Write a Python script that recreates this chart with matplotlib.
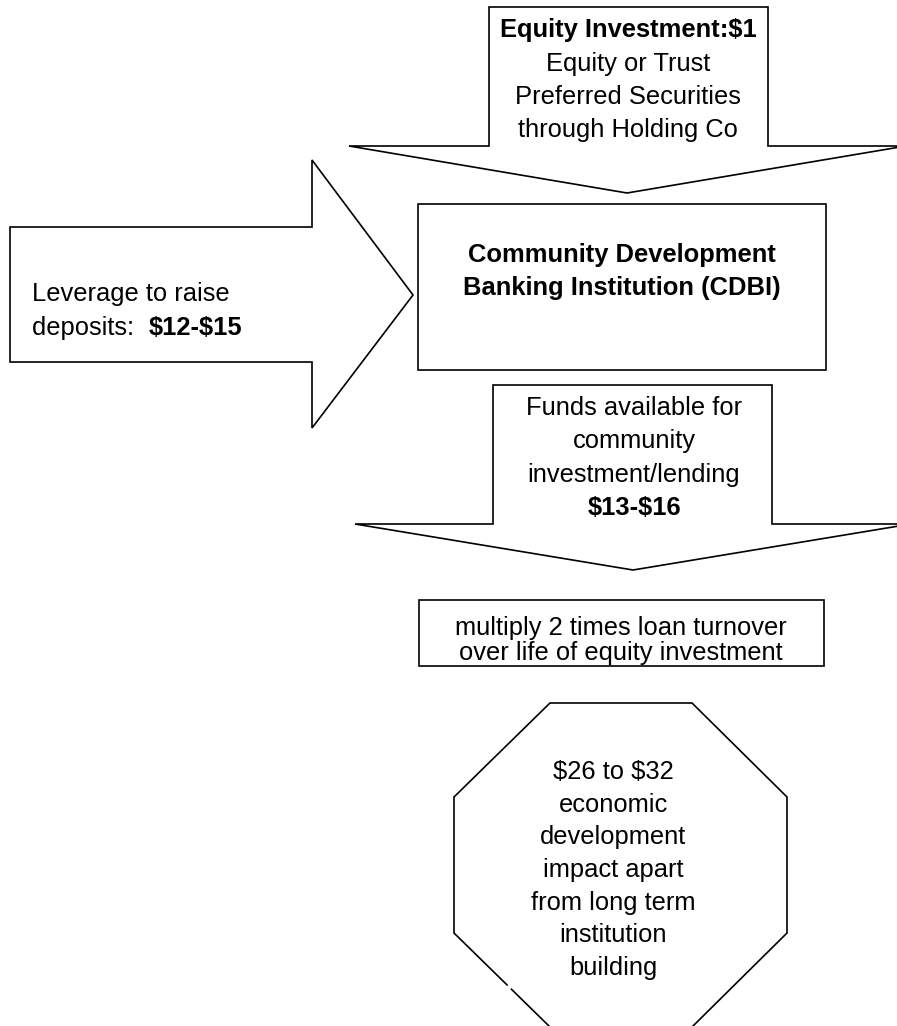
import matplotlib
matplotlib.use("Agg")
import matplotlib.pyplot as plt
from matplotlib.patches import Polygon

plt.rcParams['font.family'] = ['Liberation Sans', 'DejaVu Sans']

# ---- text content ----
top_lines = ["Equity Investment:$1", "Equity or Trust", "Preferred Securities", "through Holding Co"]
top_bold = [True, False, False, False]
left_line1 = "Leverage to raise"
left_line2_regular = "deposits:  "
left_line2_bold = "$12-$15"
center_lines = ["Community Development", "Banking Institution (CDBI)"]
funds_lines = ["Funds available for", "community", "investment/lending", "$13-$16"]
funds_bold = [False, False, False, True]
multiply_lines = ["multiply 2 times loan turnover", "over life of equity investment"]
octagon_lines = ["$26 to $32", "economic", "development", "impact apart",
                 "from long term", "institution", "building"]

W, H = 897, 1026
fig = plt.figure(figsize=(W / 100, H / 100), dpi=100)
ax = fig.add_axes([0, 0, 1, 1])
ax.set_xlim(0, W)
ax.set_ylim(H, 0)
ax.axis('off')

LW = 1.2
FS = 18.4


def shape(pts):
    ax.add_patch(Polygon(pts, closed=True, facecolor='white', edgecolor='black',
                         linewidth=LW, joinstyle='miter'))


def txt(x, y, s, bold=False, ha='center'):
    return ax.text(x, y, s, ha=ha, va='baseline', fontsize=FS,
                   fontweight='bold' if bold else 'normal', parse_math=False)


# top down-arrow
shape([(489, 7), (768, 7), (768, 146), (906, 146), (627, 193), (349, 146), (489, 146)])
# left right-arrow
shape([(10, 227), (312, 227), (312, 160), (413, 295), (312, 428), (312, 362), (10, 362)])
# CDBI box
shape([(418, 204), (826, 204), (826, 370), (418, 370)])
# second down-arrow
shape([(493, 385), (772, 385), (772, 524), (911, 524), (633, 570), (355, 524), (493, 524)])
# multiply box
shape([(419, 600), (824, 600), (824, 666), (419, 666)])
# octagon
shape([(550, 703), (692, 703), (787, 797), (787, 933), (692, 1027), (550, 1027),
       (454, 933), (454, 797)])
# small gap in octagon outline
ax.plot([507.6, 510.8], [985.6, 988.7], color='white', lw=2.2, solid_capstyle='butt')

# top arrow text
for i, (t, b) in enumerate(zip(top_lines, top_bold)):
    txt(628, 37 + 33.5 * i, t, bold=b)

# left arrow text
txt(32, 301.5, left_line1, ha='left')
t1 = txt(32, 335, left_line2_regular, ha='left')
fig.canvas.draw()
bb = t1.get_window_extent()
x_end = ax.transData.inverted().transform((bb.x1, bb.y0))[0]
txt(x_end, 335, left_line2_bold, bold=True, ha='left')

# CDBI text
for i, t in enumerate(center_lines):
    txt(622, 262 + 33 * i, t, bold=True)

# funds text
for i, (t, b) in enumerate(zip(funds_lines, funds_bold)):
    txt(634, 415 + 33.3 * i, t, bold=b)

# multiply text
for i, t in enumerate(multiply_lines):
    txt(621, 635 + 25 * i, t)

# octagon text
for i, t in enumerate(octagon_lines):
    txt(613, 779 + 32.7 * i, t)

fig.savefig("out.png", dpi=100, facecolor='white')
